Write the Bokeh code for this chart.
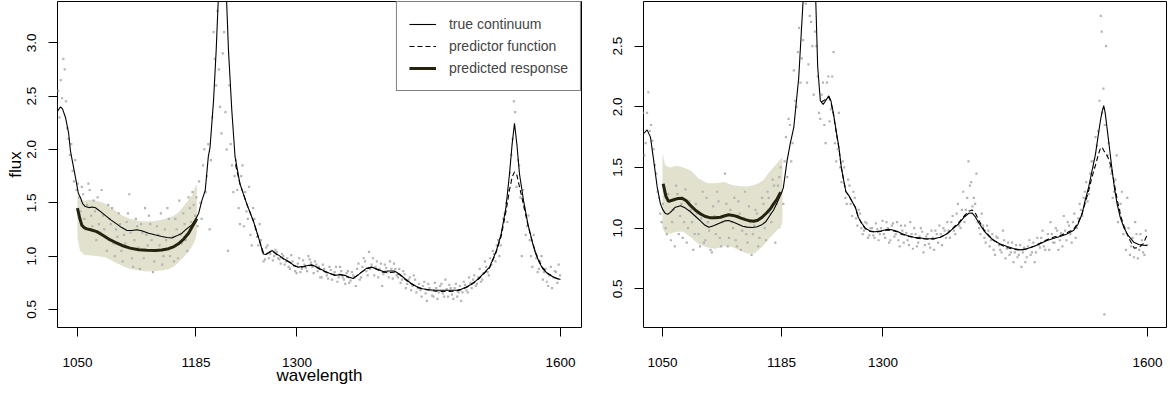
import numpy as np
from bokeh.plotting import figure
from bokeh.layouts import row
from bokeh.models import FixedTicker, Legend, LegendItem, Range1d
from bokeh.embed import file_html
from bokeh.resources import INLINE

FONT = "Liberation Sans"

x_ticks = [1050, 1185, 1300, 1600]
left_y_ticks = [0.5, 1.0, 1.5, 2.0, 2.5, 3.0]
right_y_ticks = [0.5, 1.0, 1.5, 2.0, 2.5]
legend_labels = ["true continuum", "predictor function", "predicted response"]

# ---------------- left panel ----------------
L_cont_x = [1027.6, 1030.7, 1033, 1036.4, 1040, 1042, 1044, 1047.7, 1051, 1053.4, 1056, 1059, 1063, 1067,
            1070.5, 1076, 1082, 1088, 1095, 1100, 1106.5, 1112, 1117.8, 1124, 1131, 1138, 1146, 1152,
            1157.6, 1163, 1169, 1175, 1180, 1184, 1188, 1191.7, 1195.5, 1199, 1201, 1205, 1208, 1210.6,
            1213, 1215.5, 1218, 1219.6, 1222, 1225.8, 1229.5, 1235, 1242.8, 1250.3, 1256, 1261.7, 1264.5,
            1267.4, 1270, 1272.4, 1276, 1280.7, 1286, 1292, 1296, 1301.5, 1308, 1316.7, 1323, 1330, 1337,
            1343, 1349, 1354.5, 1359, 1364, 1369, 1373.5, 1379, 1385, 1391, 1398, 1404, 1411, 1417, 1422.7,
            1429, 1436, 1443, 1451, 1458, 1466, 1474, 1481.5, 1487, 1492.8, 1498, 1504, 1508, 1514, 1519.3,
            1523, 1527, 1532.6, 1538, 1542, 1545, 1547.7, 1550.4, 1553.4, 1558, 1563, 1568.5, 1572, 1576,
            1580, 1585.6, 1593, 1600]
L_cont_y = [2.36, 2.40, 2.38, 2.30, 2.15, 1.99, 1.90, 1.74, 1.59, 1.55, 1.49, 1.465, 1.455, 1.46,
            1.453, 1.42, 1.38, 1.34, 1.30, 1.27, 1.24, 1.24, 1.247, 1.235, 1.215, 1.20, 1.184, 1.175,
            1.17, 1.19, 1.215, 1.26, 1.29, 1.34, 1.40, 1.52, 1.615, 1.93, 2.02, 2.46, 2.93, 3.45,
            4.1, 4.6, 4.1, 3.45, 2.93, 2.365, 1.93, 1.68, 1.49, 1.33, 1.18, 1.02, 1.015,
            1.03, 1.045, 1.05, 1.025, 1.0, 0.97, 0.943, 0.915, 0.897, 0.905, 0.92, 0.895, 0.866, 0.84,
            0.82, 0.825, 0.82, 0.805, 0.79, 0.82, 0.85, 0.885, 0.897, 0.88, 0.856, 0.86, 0.86, 0.83, 0.79,
            0.75, 0.716, 0.695, 0.685, 0.68, 0.68, 0.68, 0.68, 0.69, 0.71, 0.735, 0.77, 0.80, 0.85, 0.897,
            0.97, 1.05, 1.21, 1.46, 1.77, 2.05, 2.246, 2.05, 1.77, 1.52, 1.30, 1.116, 1.02, 0.94,
            0.88, 0.835, 0.80, 0.78]

L_pred_x = [1230, 1235, 1242.8, 1250.3, 1256, 1261.7, 1265, 1268, 1272.4, 1276, 1280.7, 1286, 1292, 1297,
            1302, 1308, 1316.7, 1323, 1330, 1337, 1343, 1349, 1354.5, 1359, 1364, 1369, 1373.5, 1379, 1385,
            1391, 1398, 1404, 1411, 1417, 1422.7, 1429, 1436, 1443, 1451, 1458, 1466, 1474, 1481.5, 1487,
            1492.8, 1498, 1504, 1508, 1514, 1519.3, 1523, 1527, 1532.6, 1538, 1542, 1545, 1547.7, 1550.4,
            1553.4, 1558, 1563, 1568.5, 1572, 1576, 1580, 1585.6, 1593, 1600]
L_pred_y = [1.86, 1.68, 1.49, 1.33, 1.18, 1.03, 1.02, 1.035, 1.045, 1.02, 0.995, 0.965, 0.94, 0.91,
            0.895, 0.9, 0.915, 0.89, 0.86, 0.835, 0.822, 0.83, 0.815, 0.8, 0.795, 0.82, 0.85, 0.88, 0.895,
            0.875, 0.85, 0.845, 0.85, 0.825, 0.785, 0.745, 0.71, 0.69, 0.68, 0.672, 0.668, 0.67, 0.672, 0.685,
            0.705, 0.73, 0.765, 0.795, 0.845, 0.89, 0.96, 1.04, 1.19, 1.42, 1.62, 1.74, 1.79, 1.76,
            1.65, 1.48, 1.29, 1.12, 1.03, 0.95, 0.89, 0.84, 0.80, 0.775]

L_resp_x = [1050, 1052.5, 1055, 1058, 1061, 1066, 1072, 1078, 1085.6, 1093, 1100.8, 1110, 1119.7, 1129,
            1138.6, 1146, 1153.8, 1160, 1165, 1171, 1176.5, 1181, 1186]
L_resp_y = [1.45, 1.36, 1.29, 1.265, 1.256, 1.245, 1.23, 1.20, 1.16, 1.13, 1.10, 1.075, 1.06, 1.055,
            1.053, 1.058, 1.07, 1.09, 1.116, 1.16, 1.215, 1.28, 1.35]

band_x = [1050, 1053, 1058, 1066, 1074, 1082, 1091, 1101, 1110, 1120, 1129, 1138, 1146, 1154, 1160,
          1165, 1171, 1177, 1181, 1184, 1186]
L_band_hi = [1.58, 1.53, 1.52, 1.53, 1.515, 1.49, 1.44, 1.38, 1.35, 1.33, 1.325, 1.33, 1.34, 1.36, 1.38,
             1.41, 1.47, 1.53, 1.58, 1.65, 1.67]
L_band_lo = [1.17, 1.05, 1.01, 1.005, 1.0, 0.99, 0.95, 0.91, 0.88, 0.865, 0.855, 0.86, 0.865, 0.88, 0.905,
             0.94, 0.99, 1.045, 1.10, 1.15, 1.22]

# observed flux: pixels every 3 Angstrom starting at 1028 (set a) and at 1029.5 (set b)
L_flux_a = [2.55, 2.65, 2.85, 2.45, 2.1, 2.05, 1.7, 1.62, 1.55, 1.65, 1.35, 1.48, 1.62, 1.28, 1.42, 1.55,
            1.22, 1.38, 1.18, 1.48, 1.3, 1.12, 1.25, 1.4, 1.05, 1.2, 1.32, 1.58, 0.98, 1.15, 1.28, 0.88,
            1.22, 1.45, 1.1, 1.3, 0.85, 1.05, 1.2, 1.4, 1.0, 1.15, 1.35, 1.08, 0.95, 1.25, 1.52, 1.12,
            1.3, 1.05, 1.45, 1.6, 1.38, 1.28, 1.5, 1.85, 1.6, 2.05, 1.9, 3.1, 2.6, 2.75, 2.15, 3.1,
            2.0, 2.6, 1.85, 1.75, 1.62, 1.3, 1.85, 1.6, 1.35, 1.2, 1.45, 1.25, 1.1, 1.15, 0.95, 1.08,
            0.98, 1.05, 1.0, 1.04, 0.97, 1.02, 0.92, 0.98, 0.88, 0.95, 0.86, 0.93, 0.85, 0.96, 0.89, 1.0,
            0.94, 0.84, 0.92, 0.9, 0.8, 0.88, 0.82, 0.9, 0.78, 0.85, 0.76, 0.9, 0.8, 0.74, 0.86, 0.77,
            0.82, 0.72, 0.93, 0.8, 0.98, 0.86, 1.04, 0.92, 0.82, 0.95, 0.88, 0.72, 0.92, 0.85, 0.95, 0.79,
            0.88, 0.8, 0.75, 0.86, 0.7, 0.78, 0.68, 0.82, 0.66, 0.74, 0.62, 0.76, 0.58, 0.7, 0.63, 0.75,
            0.6, 0.72, 0.65, 0.78, 0.62, 0.7, 0.6, 0.74, 0.66, 0.58, 0.76, 0.68, 0.8, 0.7, 0.82, 0.74,
            0.88, 0.78, 0.95, 0.85, 0.98, 1.05, 0.95, 1.15, 1.1, 1.35, 1.5, 1.62, 1.95, 2.45, 1.65, 1.85,
            1.0, 1.45, 1.28, 1.15, 0.9, 1.05, 0.85, 0.95, 0.78, 0.88, 0.72, 0.9, 0.8, 0.85, 0.92]
L_flux_b = [2.3, 2.48, 2.75, 2.2, 1.95, 1.8, 1.9, 1.68, 1.42, 1.58, 1.25, 1.68, 1.38, 1.52, 1.15, 1.3,
            1.62, 1.25, 1.05, 1.35, 1.45, 1.0, 1.18, 1.3, 0.95, 1.12, 1.4, 1.22, 0.9, 1.35, 1.08, 1.3,
            0.98, 1.2, 1.38, 1.15, 0.95, 1.28, 1.1, 0.92, 1.25, 1.45, 1.0, 1.18, 1.35, 0.98, 1.2, 1.4,
            1.15, 1.55, 1.32, 1.48, 1.55, 1.7, 1.35, 2.0, 1.75, 1.25, 2.3, 2.85, 3.3, 2.4, 2.9, 2.35,
            1.05, 2.05, 1.6, 1.9, 1.45, 1.75, 1.28, 1.42, 1.65, 1.1, 1.35, 1.18, 1.3, 1.05, 0.97, 1.1,
            1.02, 0.96, 1.06, 0.98, 0.93, 1.0, 0.95, 0.9, 1.01, 0.91, 0.84, 0.98, 0.88, 0.92, 0.86, 0.97,
            0.9, 0.95, 0.86, 0.8, 0.92, 0.85, 0.79, 0.87, 0.83, 0.9, 0.8, 0.86, 0.78, 0.84, 0.75, 0.85,
            0.8, 0.88, 0.78, 0.9, 0.95, 0.82, 0.88, 0.98, 0.9, 0.8, 0.93, 0.83, 0.89, 0.8, 0.88, 0.93,
            0.82, 0.88, 0.78, 0.83, 0.74, 0.8, 0.72, 0.78, 0.7, 0.68, 0.72, 0.65, 0.74, 0.68, 0.62, 0.7,
            0.66, 0.74, 0.62, 0.69, 0.73, 0.64, 0.7, 0.62, 0.72, 0.66, 0.73, 0.66, 0.75, 0.78, 0.72, 0.8,
            0.76, 0.84, 0.9, 0.82, 0.92, 1.02, 1.1, 1.0, 1.25, 1.4, 1.32, 1.78, 2.1, 2.35, 1.9, 1.55,
            1.62, 1.2, 1.38, 1.0, 1.2, 0.98, 0.88, 1.0, 0.85, 0.76, 0.82, 0.7, 0.86, 0.75, 0.82]

# ---------------- right panel ----------------
R_cont_x = [1028.8, 1032.6, 1036.4, 1040, 1044, 1047.7, 1050.5, 1053.4, 1056, 1059, 1064, 1070.4, 1076,
            1081.7, 1087, 1093, 1098, 1102.5, 1108, 1115.8, 1121, 1125, 1130, 1136.5, 1141, 1146, 1152,
            1157.4, 1162, 1166.8, 1172.4, 1176, 1180, 1183.8, 1187, 1191.4, 1195, 1198.9, 1204.5, 1209.5,
            1212, 1215.5, 1220, 1223.8, 1226, 1229, 1232.2, 1235, 1238.6, 1241, 1244, 1247, 1250, 1252.8,
            1255.6, 1258, 1261.2, 1265, 1268.8, 1272, 1276.4, 1280, 1285.8, 1291, 1297, 1302, 1306.6, 1311,
            1316, 1321, 1327.4, 1335, 1341, 1347, 1352, 1357.6, 1365, 1372.8, 1380, 1386, 1392, 1397.3,
            1401, 1405, 1409, 1414.3, 1420, 1425.6, 1433, 1440.8, 1448, 1456, 1463, 1471, 1478, 1486, 1493,
            1501, 1508, 1516, 1521, 1525.8, 1529, 1533.3, 1537, 1541, 1544, 1546.6, 1548.5, 1550.3, 1552,
            1554, 1557, 1559.9, 1562.5, 1565.5, 1569, 1573, 1578, 1584.4, 1590, 1595, 1599.5]
R_cont_y = [1.78, 1.81, 1.75, 1.56, 1.34, 1.20, 1.15, 1.12, 1.115, 1.13, 1.17, 1.185, 1.165,
            1.135, 1.10, 1.06, 1.025, 1.008, 1.02, 1.045, 1.06, 1.063, 1.05, 1.03, 1.015, 1.008, 1.005,
            1.012, 1.025, 1.05, 1.11, 1.15, 1.21, 1.27, 1.33, 1.56, 1.70, 1.83, 2.24, 2.88,
            3.3, 3.7, 3.3, 2.88, 2.33, 2.05, 2.02, 2.05, 2.09, 2.05, 1.94, 1.80, 1.67, 1.50,
            1.39, 1.30, 1.27, 1.22, 1.17, 1.09, 1.036, 1.0, 0.975, 0.97, 0.975, 0.985, 0.99, 0.985,
            0.975, 0.955, 0.94, 0.925, 0.92, 0.915, 0.912, 0.912, 0.925, 0.953, 1.0, 1.036, 1.09, 1.123,
            1.125, 1.09, 1.04, 0.98, 0.935, 0.898, 0.87, 0.849, 0.832, 0.821, 0.83, 0.849, 0.872, 0.898, 0.915,
            0.931, 0.95, 0.98, 1.03, 1.118, 1.22, 1.34, 1.47, 1.61, 1.76, 1.887, 1.96, 2.01, 1.95,
            1.83, 1.65, 1.475, 1.33, 1.20, 1.09, 1.008, 0.94, 0.884, 0.865, 0.86, 0.857]

R_pred_x = [1230, 1235, 1238.6, 1241, 1244, 1247, 1250, 1252.8, 1255.6, 1258, 1261.2, 1265, 1268.8, 1272,
            1276.4, 1280, 1285.8, 1291, 1297, 1302, 1306.6, 1311, 1316, 1321, 1327.4, 1335, 1341, 1347,
            1352, 1357.6, 1365, 1372.8, 1380, 1386, 1392, 1397.3, 1401, 1405, 1409, 1414.3, 1420, 1425.6,
            1433, 1440.8, 1448, 1456, 1463, 1471, 1478, 1486, 1493, 1501, 1508, 1516, 1521, 1525.8, 1529,
            1533.3, 1537, 1541, 1544, 1546.6, 1548.5, 1550.3, 1552, 1554, 1557, 1560, 1563, 1566, 1570,
            1575, 1580, 1585, 1590, 1595, 1600]
R_pred_y = [2.04, 2.06, 2.08, 2.04, 1.93, 1.79, 1.66, 1.50, 1.39, 1.30, 1.27, 1.22, 1.17, 1.09,
            1.03, 0.995, 0.972, 0.968, 0.972, 0.982, 0.985, 0.98, 0.97, 0.95, 0.935, 0.922, 0.915, 0.91,
            0.908, 0.91, 0.925, 0.955, 1.005, 1.045, 1.10, 1.14, 1.15, 1.12, 1.06, 0.99, 0.94, 0.9,
            0.865, 0.84, 0.825, 0.818, 0.828, 0.85, 0.876, 0.905, 0.925, 0.94, 0.96, 0.99, 1.04, 1.12, 1.2,
            1.31, 1.42, 1.52, 1.60, 1.66, 1.667, 1.64, 1.62, 1.60, 1.55, 1.46, 1.34, 1.22, 1.09,
            0.98, 0.90, 0.835, 0.84, 0.87, 0.95]

R_resp_x = [1050.8, 1054, 1057, 1062.8, 1068, 1072.3, 1077, 1081.7, 1087, 1093, 1098, 1104.4, 1110, 1115.8,
            1120, 1125, 1130, 1134.6, 1139, 1144, 1149, 1153.5, 1158, 1163, 1168, 1172.4, 1176, 1180, 1184]
R_resp_y = [1.366, 1.26, 1.22, 1.234, 1.245, 1.247, 1.225, 1.187, 1.15, 1.118, 1.098, 1.085, 1.085, 1.09,
            1.10, 1.11, 1.105, 1.096, 1.083, 1.07, 1.06, 1.057, 1.065, 1.09, 1.125, 1.16, 1.2, 1.24, 1.296]

R_band_hi = [1.62, 1.52, 1.50, 1.515, 1.50, 1.475, 1.41, 1.37, 1.37, 1.38, 1.355, 1.345, 1.343, 1.355, 1.375,
             1.40, 1.46, 1.51, 1.545, 1.57, 1.58]
R_band_lo = [1.0, 0.96, 0.953, 0.97, 0.97, 0.925, 0.87, 0.84, 0.83, 0.85, 0.845, 0.816, 0.79, 0.79, 0.825,
             0.86, 0.915, 0.96, 0.99, 1.0, 1.05]

R_flux_a = [1.95, 1.7, 2.12, 1.85, 1.65, 1.45, 1.25, 1.05, 1.3, 0.95, 1.22, 1.05, 0.85, 1.28, 1.1, 0.92,
            1.32, 1.0, 1.15, 0.82, 1.2, 0.95, 1.08, 0.88, 1.25, 0.98, 0.8, 1.1, 1.3, 0.92, 1.05, 1.45,
            0.85, 1.15, 1.0, 0.9, 1.22, 0.82, 1.08, 0.95, 1.18, 0.78, 1.02, 1.12, 0.92, 1.25, 1.0, 1.3,
            1.12, 1.4, 0.88, 1.35, 1.5, 1.2, 1.75, 1.9, 1.55, 2.3, 2.0, 2.65, 2.4, 3.0, 2.2, 2.75,
            2.5, 2.62, 2.25, 1.9, 2.2, 1.7, 2.25, 1.98, 2.45, 1.55, 1.95, 1.38, 1.5, 1.2, 1.35, 1.1,
            1.25, 1.02, 1.12, 0.95, 1.05, 0.92, 1.0, 0.94, 1.04, 0.9, 1.0, 0.95, 1.05, 0.88, 1.02, 0.93,
            1.05, 0.85, 0.98, 1.02, 0.9, 1.05, 0.83, 0.95, 0.88, 1.0, 0.8, 0.93, 0.87, 0.98, 0.82, 0.95,
            1.02, 0.86, 0.98, 1.05, 0.92, 1.1, 0.95, 1.2, 1.0, 1.3, 1.15, 1.55, 1.38, 1.25, 1.45, 1.0,
            1.12, 0.92, 1.02, 0.85, 0.95, 0.78, 0.92, 0.82, 0.98, 0.75, 0.88, 0.8, 0.72, 0.86, 0.78, 0.68,
            0.84, 0.76, 0.9, 0.8, 0.72, 0.92, 0.84, 0.98, 0.82, 0.95, 1.05, 0.88, 1.0, 0.82, 0.96, 1.1,
            0.9, 1.02, 0.88, 1.12, 1.0, 1.2, 1.1, 1.3, 1.22, 1.45, 1.55, 1.75, 1.8, 2.75, 2.15, 2.5,
            1.7, 1.45, 1.3, 1.6, 1.15, 1.3, 1.0, 1.25, 0.78, 0.92, 1.05, 0.75, 0.95, 0.8, 0.98]
R_flux_b = [1.6, 1.95, 1.8, 1.72, 1.52, 1.3, 1.12, 1.2, 1.0, 1.28, 0.9, 1.15, 1.35, 0.95, 1.2, 1.05,
            0.88, 1.22, 1.05, 0.95, 1.12, 0.85, 1.3, 0.9, 1.05, 0.82, 1.18, 0.95, 1.22, 0.85, 1.1, 1.2,
            0.92, 1.05, 1.25, 0.85, 1.12, 0.98, 1.3, 0.88, 1.05, 0.95, 1.15, 0.85, 1.08, 1.2, 0.9, 1.25,
            1.05, 1.35, 1.2, 1.42, 1.3, 1.55, 1.42, 1.85, 1.7, 2.05, 2.45, 2.2, 2.55, 2.85, 2.35, 2.7,
            2.1, 2.5, 1.95, 2.1, 1.85, 2.2, 1.88, 2.25, 1.7, 1.65, 1.5, 1.55, 1.25, 1.4, 1.2, 1.3,
            1.08, 1.15, 1.0, 0.98, 1.04, 0.94, 1.0, 0.92, 0.99, 0.95, 1.06, 0.92, 1.0, 0.9, 1.04, 0.95,
            0.9, 1.02, 0.88, 0.96, 0.86, 0.95, 1.0, 0.85, 0.93, 0.97, 0.86, 0.95, 0.84, 0.92, 0.98, 0.88,
            0.95, 1.0, 0.92, 0.98, 1.05, 0.98, 1.12, 1.02, 1.15, 1.05, 1.25, 1.35, 1.18, 1.2, 1.05, 0.95,
            1.02, 0.88, 0.98, 0.9, 0.82, 0.93, 0.86, 0.8, 0.9, 0.83, 0.78, 0.88, 0.8, 0.76, 0.86, 0.8,
            0.72, 0.85, 0.78, 0.88, 0.8, 0.86, 0.92, 0.85, 0.9, 0.82, 0.95, 0.88, 0.98, 0.9, 0.85, 0.98,
            1.05, 0.95, 1.05, 0.92, 1.08, 1.15, 1.25, 1.38, 1.28, 1.55, 1.5, 1.68, 2.05, 1.95, 1.85, 1.6,
            1.5, 1.25, 1.4, 1.05, 1.2, 0.95, 0.82, 1.0, 0.85, 0.76, 0.95, 0.82, 0.9, 0.78, 0.86]
R_extra_x = [1551, 1548]
R_extra_y = [0.29, 2.62]

BAND = "#e2e1cd"
DOT = "#b4b4b4"
THICK = "#24230f"


def make_panel(xr, yr, yticks, cont_x, cont_y, pred_x, pred_y, resp_x, resp_y, b_hi, b_lo, flux_a,
               flux_b, extra_x, extra_y, with_labels, min_right):
    p = figure(width=586, height=395, output_backend="svg", toolbar_location=None,
               x_range=Range1d(*xr), y_range=Range1d(*yr),
               min_border_left=57, min_border_right=min_right, min_border_top=1, min_border_bottom=68)
    p.xgrid.visible = False
    p.ygrid.visible = False
    p.outline_line_color = "black"
    p.outline_line_width = 1
    p.background_fill_color = "white"
    p.border_fill_color = "white"

    p.varea(x=band_x, y1=b_lo, y2=b_hi, fill_color=BAND)
    fx = ([1028 + 3 * i for i in range(len(flux_a))] + [1029.5 + 3 * i for i in range(len(flux_b))]
          + list(extra_x))
    fy = list(flux_a) + list(flux_b) + list(extra_y)
    p.scatter(fx, fy, size=2.2, marker="square", color=DOT, line_color=None)
    r_cont = p.line(cont_x, cont_y, line_color="black", line_width=1.1)
    r_pred = p.line(pred_x, pred_y, line_color="black", line_width=1.1, line_dash="5 3")
    r_resp = p.line(resp_x, resp_y, line_color=THICK, line_width=3)

    p.xaxis.ticker = FixedTicker(ticks=x_ticks)
    p.yaxis.ticker = FixedTicker(ticks=yticks)
    p.yaxis.major_label_overrides = {t: f"{t:.1f}" for t in yticks}
    p.xaxis.major_label_overrides = {t: str(t) for t in x_ticks}
    for ax in (p.xaxis[0], p.yaxis[0]):
        ax.axis_line_color = None
        ax.major_tick_in = 0
        ax.major_tick_out = 9
        ax.minor_tick_line_color = None
        ax.major_tick_line_color = "black"
        ax.major_label_text_font = FONT
        ax.major_label_text_font_size = "13.5px"
        ax.major_label_text_color = "black"
        ax.axis_label_text_font = FONT
        ax.axis_label_text_font_size = "17px"
        ax.axis_label_text_font_style = "normal"
        ax.axis_label_text_color = "black"
    p.yaxis.major_label_orientation = "vertical"
    p.xaxis.major_label_standoff = 21
    p.yaxis.major_label_standoff = 12
    if with_labels:
        p.xaxis.axis_label = "wavelength"
        p.yaxis.axis_label = "flux"
        p.xaxis.axis_label_standoff = -4
        p.yaxis.axis_label_standoff = 0
        legend = Legend(items=[LegendItem(label=legend_labels[0], renderers=[r_cont]),
                               LegendItem(label=legend_labels[1], renderers=[r_pred]),
                               LegendItem(label=legend_labels[2], renderers=[r_resp])],
                        location="top_right", margin=0, padding=12, spacing=2,
                        glyph_width=27, glyph_height=20, label_height=20, label_standoff=13,
                        label_text_font=FONT, label_text_font_size="14px",
                        border_line_color="black", border_line_width=1,
                        background_fill_color="white", background_fill_alpha=1)
        p.add_layout(legend)
    return p


left = make_panel((1027.3, 1624.0), (0.331, 3.387), left_y_ticks, L_cont_x, L_cont_y, L_pred_x, L_pred_y,
                  L_resp_x, L_resp_y, L_band_hi, L_band_lo, L_flux_a, L_flux_b, [], [], True, 5)
right = make_panel((1028.5, 1621.5), (0.181, 2.868), right_y_ticks, R_cont_x, R_cont_y, R_pred_x, R_pred_y,
                   R_resp_x, R_resp_y, R_band_hi, R_band_lo, R_flux_a, R_flux_b, R_extra_x, R_extra_y,
                   False, 6)

layout = row(left, right)
open("out.html", "w").write(file_html(layout, INLINE))
